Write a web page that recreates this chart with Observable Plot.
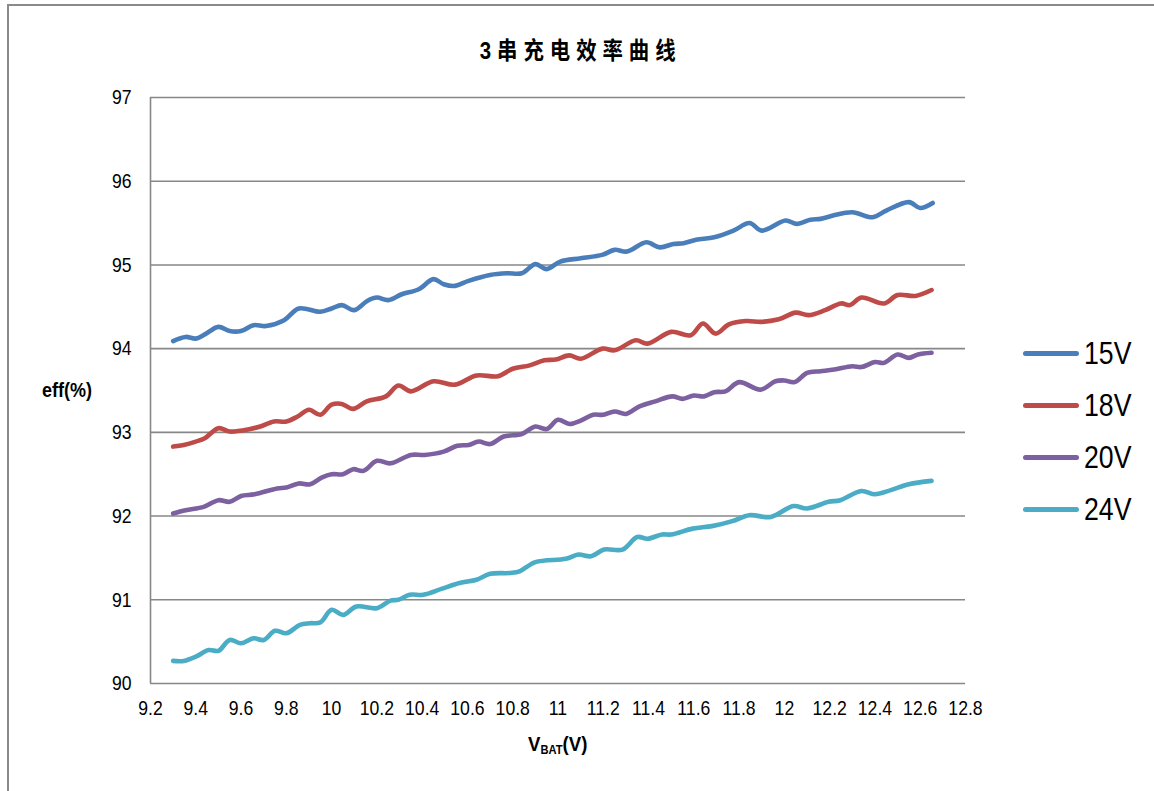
<!DOCTYPE html>
<html>
<head>
<meta charset="utf-8">
<script src="https://cdn.jsdelivr.net/npm/d3@7"></script>
<script src="https://cdn.jsdelivr.net/npm/@observablehq/plot@0.6"></script>
<style>
  html, body { margin: 0; padding: 0; background: #fff; }
  #wrap { position: relative; width: 1154px; height: 791px; overflow: hidden; background: #fff; }
  #frame { position: absolute; left: 7px; top: 4px; width: 1200px; height: 900px; border-top: 2px solid #8a8a8a; border-left: 2px solid #8a8a8a; }
  #chart { position: absolute; left: 0; top: 0; }
  .narrow { font-family: "Liberation Sans Narrow", "Arial Narrow", "Liberation Sans", Arial, sans-serif; }
  #title { position: absolute; top: 31px; left: 0; width: 1162px; text-align: center; }
  #title span { display: inline-block; font-family: "Liberation Sans", "Noto Sans CJK SC", sans-serif; font-weight: bold; font-size: 24px; letter-spacing: 7px; color: #000; transform: scaleX(0.85); transform-origin: center; }
  #ylab { position: absolute; left: 42px; top: 379px; font-family: "Liberation Sans", Arial, sans-serif; font-weight: bold; font-size: 20px; color: #000; transform: scaleX(0.9); transform-origin: left; }
  #xlab { position: absolute; left: 528px; top: 733px; font-family: "Liberation Sans", Arial, sans-serif; font-weight: bold; font-size: 20px; color: #000; transform: scaleX(0.93); transform-origin: left; }
  #xlab sub { font-size: 12px; vertical-align: -3px; }
  .leg { position: absolute; left: 1023px; }
  .leg .sw { position: absolute; left: 0; width: 56px; height: 5px; border-radius: 3px; }
  .leg .tx { position: absolute; left: 61px; font-size: 31px; color: #000; white-space: nowrap; line-height: 1; transform: scaleX(0.86); transform-origin: left; }
</style>
</head>
<body>
<div id="wrap">
  <div id="frame"></div>
  <div id="chart"></div>
  <div id="title"><span>3串充电效率曲线</span></div>
  <div id="ylab">eff(%)</div>
  <div id="xlab">V<sub>BAT</sub>(V)</div>
  <div id="legend"></div>
</div>
<script>
// Series names and colours
const seriesNames = ["15V", "18V", "20V", "24V"];
const seriesColors = ["#4a7ebb", "#be4b48", "#7d60a0", "#4aacc5"];

// Tick labels
const xTicks = [9.2, 9.4, 9.6, 9.8, 10, 10.2, 10.4, 10.6, 10.8, 11, 11.2, 11.4, 11.6, 11.8, 12, 12.2, 12.4, 12.6, 12.8];
const yTicks = [90, 91, 92, 93, 94, 95, 96, 97];

// Series values: [VBAT (V), efficiency (%)]
const v15 = [[9.30,94.09],[9.355,94.14],[9.40,94.12],[9.44,94.17],[9.50,94.26],[9.55,94.21],[9.60,94.21],[9.655,94.28],[9.71,94.27],[9.79,94.34],[9.855,94.48],[9.95,94.44],[10.00,94.48],[10.045,94.52],[10.10,94.46],[10.157,94.57],[10.20,94.61],[10.25,94.58],[10.31,94.65],[10.385,94.71],[10.45,94.83],[10.495,94.77],[10.545,94.75],[10.605,94.81],[10.70,94.88],[10.775,94.90],[10.84,94.90],[10.90,95.01],[10.95,94.95],[11.01,95.04],[11.10,95.08],[11.195,95.12],[11.25,95.18],[11.305,95.16],[11.39,95.27],[11.45,95.21],[11.51,95.25],[11.555,95.26],[11.61,95.30],[11.69,95.33],[11.775,95.41],[11.846,95.50],[11.90,95.41],[12.005,95.53],[12.055,95.49],[12.115,95.54],[12.16,95.55],[12.215,95.59],[12.30,95.63],[12.39,95.57],[12.45,95.65],[12.55,95.75],[12.60,95.68],[12.655,95.74]];
const v18 = [[9.30,92.83],[9.347,92.85],[9.40,92.89],[9.44,92.93],[9.50,93.05],[9.55,93.01],[9.64,93.04],[9.685,93.07],[9.745,93.13],[9.80,93.13],[9.85,93.19],[9.90,93.27],[9.95,93.21],[10.00,93.33],[10.045,93.34],[10.095,93.28],[10.155,93.37],[10.24,93.43],[10.295,93.56],[10.35,93.49],[10.45,93.61],[10.545,93.57],[10.64,93.68],[10.735,93.67],[10.80,93.76],[10.875,93.80],[10.94,93.86],[10.99,93.87],[11.05,93.92],[11.10,93.88],[11.197,94.00],[11.25,93.98],[11.344,94.10],[11.395,94.06],[11.50,94.20],[11.586,94.16],[11.64,94.30],[11.696,94.18],[11.755,94.29],[11.83,94.33],[11.90,94.32],[11.975,94.35],[12.05,94.43],[12.107,94.40],[12.18,94.46],[12.25,94.54],[12.29,94.52],[12.34,94.61],[12.44,94.54],[12.50,94.64],[12.58,94.63],[12.65,94.70]];
const v20 = [[9.30,92.03],[9.355,92.07],[9.435,92.11],[9.50,92.19],[9.55,92.17],[9.60,92.24],[9.66,92.26],[9.76,92.33],[9.80,92.34],[9.855,92.39],[9.905,92.38],[9.956,92.46],[10.00,92.50],[10.05,92.50],[10.095,92.56],[10.14,92.54],[10.20,92.66],[10.26,92.63],[10.35,92.73],[10.41,92.73],[10.495,92.77],[10.555,92.84],[10.605,92.85],[10.65,92.89],[10.70,92.86],[10.76,92.95],[10.84,92.98],[10.90,93.07],[10.95,93.04],[11.00,93.15],[11.05,93.10],[11.10,93.14],[11.155,93.21],[11.20,93.21],[11.25,93.25],[11.30,93.22],[11.36,93.31],[11.43,93.37],[11.505,93.43],[11.55,93.40],[11.60,93.44],[11.645,93.43],[11.69,93.48],[11.74,93.49],[11.80,93.60],[11.895,93.51],[11.96,93.61],[12.00,93.62],[12.045,93.60],[12.10,93.71],[12.16,93.73],[12.22,93.75],[12.30,93.79],[12.34,93.78],[12.40,93.84],[12.44,93.83],[12.50,93.93],[12.55,93.89],[12.59,93.93],[12.65,93.95]];
const v24 = [[9.30,90.27],[9.347,90.27],[9.40,90.32],[9.457,90.40],[9.50,90.39],[9.55,90.52],[9.60,90.48],[9.655,90.54],[9.70,90.52],[9.75,90.63],[9.80,90.60],[9.86,90.70],[9.905,90.72],[9.95,90.73],[10.00,90.88],[10.05,90.82],[10.11,90.92],[10.20,90.90],[10.26,90.99],[10.295,91.00],[10.345,91.06],[10.405,91.06],[10.485,91.13],[10.565,91.20],[10.64,91.24],[10.70,91.31],[10.79,91.32],[10.83,91.34],[10.90,91.45],[11.035,91.49],[11.09,91.54],[11.146,91.52],[11.204,91.60],[11.285,91.60],[11.35,91.75],[11.395,91.73],[11.46,91.78],[11.50,91.78],[11.595,91.85],[11.68,91.88],[11.77,91.94],[11.845,92.01],[11.94,91.99],[12.04,92.12],[12.10,92.09],[12.195,92.17],[12.247,92.19],[12.34,92.30],[12.40,92.26],[12.47,92.31],[12.55,92.38],[12.65,92.42]];

const allSeries = [v15, v18, v20, v24];
const table = allSeries.flatMap((s, i) => s.map(([x, y]) => ({series: seriesNames[i], x, y})));

const fontNarrow = '"Liberation Sans Narrow", "Arial Narrow", "Liberation Sans", Arial, sans-serif';

const chart = Plot.plot({
  width: 1154,
  height: 791,
  marginLeft: 150,
  marginRight: 189,
  marginTop: 97,
  marginBottom: 108,
  style: {fontFamily: fontNarrow, fontSize: "21px", color: "#000", background: "transparent"},
  x: {domain: [9.2, 12.8]},
  y: {domain: [90, 97]},
  color: {domain: seriesNames, range: seriesColors},
  marks: [
    Plot.ruleY(yTicks, {stroke: "#878787", strokeWidth: 1.6, strokeOpacity: 1}),
    Plot.ruleX([9.2], {stroke: "#878787", strokeWidth: 1.6, strokeOpacity: 1}),
    Plot.axisY({ticks: yTicks, tickSize: 0, tickPadding: 19, label: null, fontSize: 21, tickFormat: d => String(d), className: "tickY"}),
    Plot.axisX({ticks: xTicks, tickSize: 0, tickPadding: 17, label: null, fontSize: 21, tickFormat: d => String(+d.toFixed(1)), className: "tickX"}),
    Plot.line(table, {x: "x", y: "y", z: "series", stroke: "series", strokeWidth: 4.6, curve: "catmull-rom", strokeLinecap: "round", strokeLinejoin: "round"})
  ]
});
document.getElementById("chart").appendChild(chart);

// Condense tick labels to mimic a narrow face
chart.querySelectorAll("text").forEach(t => {
  const len = t.getComputedTextLength();
  if (len > 0) {
    t.setAttribute("textLength", (len * 0.84).toFixed(1));
    t.setAttribute("lengthAdjust", "spacingAndGlyphs");
  }
});

// Legend
const legend = document.getElementById("legend");
const legTops = [353, 405, 457, 509];
seriesNames.forEach((name, i) => {
  const item = document.createElement("div");
  item.className = "leg narrow";
  item.style.top = legTops[i] + "px";
  const sw = document.createElement("div");
  sw.className = "sw";
  sw.style.top = "-2.5px";
  sw.style.background = seriesColors[i];
  const tx = document.createElement("div");
  tx.className = "tx";
  tx.style.top = "-15px";
  tx.textContent = name;
  item.appendChild(sw);
  item.appendChild(tx);
  legend.appendChild(item);
});
</script>
</body>
</html>
